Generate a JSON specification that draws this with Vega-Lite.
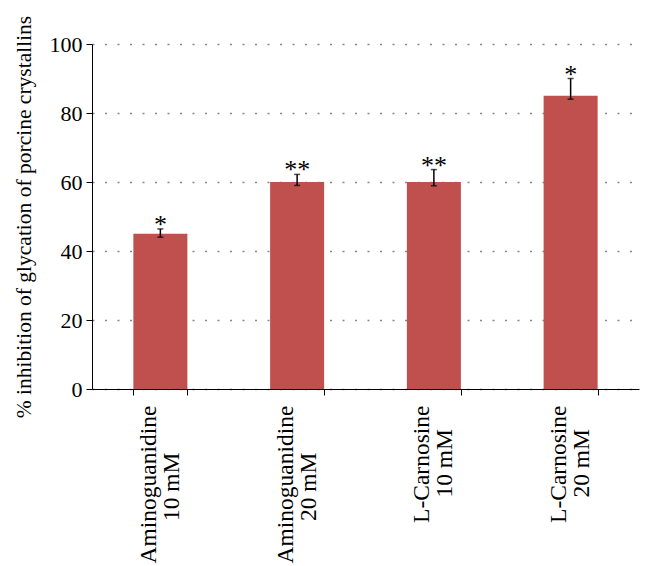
{
  "$schema": "https://vega.github.io/schema/vega-lite/v6.json",
  "width": 547,
  "height": 345,
  "autosize": {"type": "none"},
  "padding": {"left": 92, "top": 44, "right": 14, "bottom": 177},
  "background": "white",
  "config": {
    "view": {"stroke": null},
    "font": "Liberation Serif"
  },
  "data": {
    "values": [
      {"drug": "Aminoguanidine|10 mM", "value": 45, "lo": 44.0, "hi": 46.4, "sig": "*"},
      {"drug": "Aminoguanidine|20 mM", "value": 60, "lo": 59.0, "hi": 62.2, "sig": "**"},
      {"drug": "L-Carnosine|10 mM", "value": 60, "lo": 58.9, "hi": 63.6, "sig": "**"},
      {"drug": "L-Carnosine|20 mM", "value": 85, "lo": 84.0, "hi": 90.0, "sig": "*"}
    ]
  },
  "encoding": {
    "x": {
      "field": "drug",
      "type": "nominal",
      "sort": null,
      "scale": {"paddingInner": 0.605, "paddingOuter": 0.3025},
      "axis": {
        "title": null,
        "labelAngle": -90,
        "labelExpr": "datum.value ? [split(datum.value, '|')[0], split(datum.value, '|')[1] + (indexof(datum.value, 'Amino') == 0 ? '\\u2007\\u2007\\u2007\\u2007\\u2060' : '\\u2007\\u2007\\u2060')] : ''",
        "labelFont": "Liberation Serif",
        "labelFontSize": 23.5,
        "labelColor": "black",
        "labelPadding": 10,
        "labelLineHeight": 23,
        "labelOffset": -12,
        "labelLimit": 300,
        "domainColor": "black",
        "tickColor": "black",
        "tickBand": "extent",
        "tickSize": 6,
        "grid": false
      }
    }
  },
  "layer": [
    {
      "mark": {"type": "bar", "color": "#C0504D"},
      "encoding": {
        "y": {
          "field": "value",
          "type": "quantitative",
          "scale": {"domain": [0, 100], "nice": false},
          "axis": {
            "title": "% inhibition of glycation of porcine crystallins",
            "titleFont": "Liberation Serif",
            "titleFontSize": 21.5,
            "titleFontWeight": "normal",
            "titleColor": "black",
            "titlePadding": 14,
            "values": [0, 20, 40, 60, 80, 100],
            "labelFont": "Liberation Serif",
            "labelFontSize": 22,
            "labelColor": "black",
            "labelPadding": 4,
            "domainColor": "black",
            "tickColor": "black",
            "tickSize": 6,
            "grid": true,
            "gridColor": "#888888",
            "gridDash": [2, 10.5],
            "gridWidth": 1.5
          }
        }
      }
    },
    {
      "mark": {"type": "rule", "color": "black", "strokeWidth": 1.5},
      "encoding": {
        "y": {"field": "lo", "type": "quantitative"},
        "y2": {"field": "hi"}
      }
    },
    {
      "mark": {"type": "tick", "color": "black", "thickness": 1.5, "size": 6, "orient": "horizontal"},
      "encoding": {"y": {"field": "lo", "type": "quantitative"}}
    },
    {
      "mark": {"type": "tick", "color": "black", "thickness": 1.5, "size": 6, "orient": "horizontal"},
      "encoding": {"y": {"field": "hi", "type": "quantitative"}}
    },
    {
      "mark": {"type": "text", "font": "Liberation Serif", "fontSize": 26, "color": "black", "baseline": "alphabetic", "dy": 4},
      "encoding": {
        "y": {"field": "hi", "type": "quantitative"},
        "text": {"field": "sig"}
      }
    }
  ]
}
